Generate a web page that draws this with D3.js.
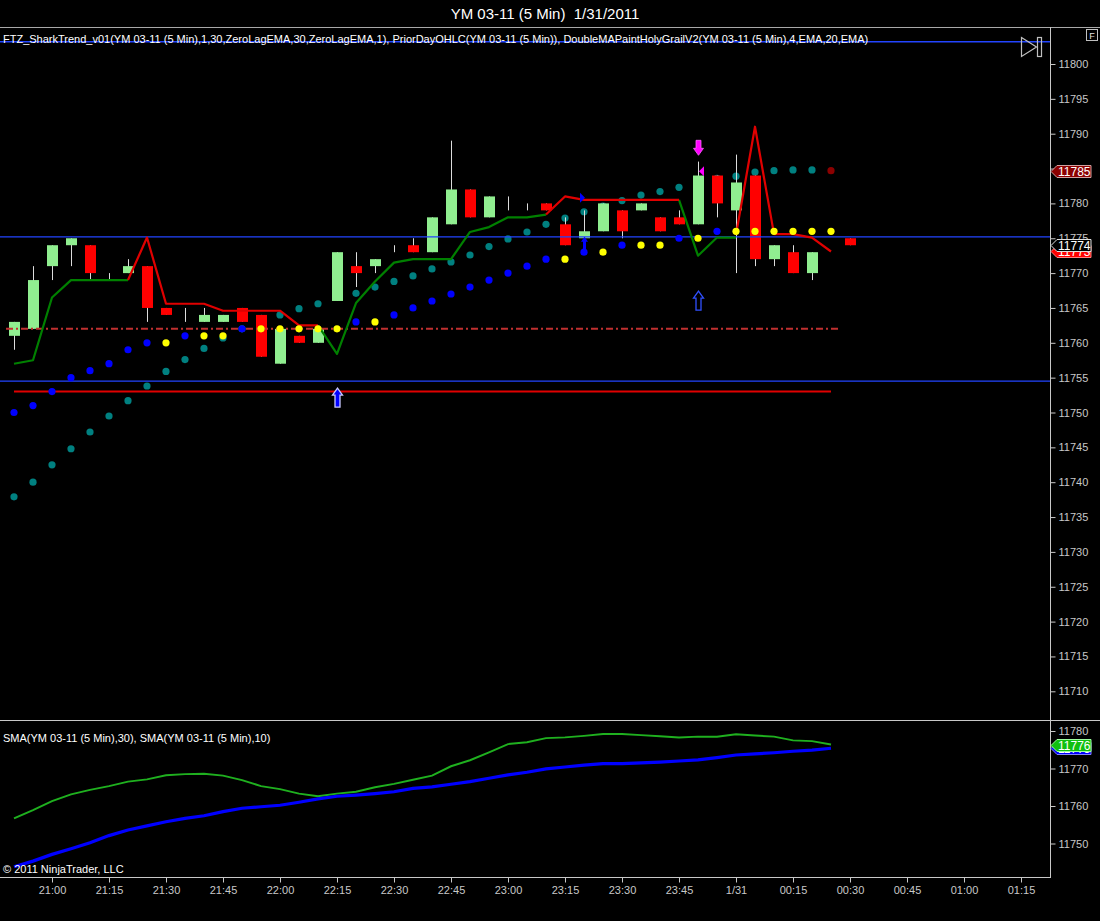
<!DOCTYPE html>
<html><head><meta charset="utf-8">
<script src="https://cdn.jsdelivr.net/npm/d3@7"></script>
<style>
html,body{margin:0;padding:0;background:#000;}
svg{display:block;font-family:"Liberation Sans",Arial,sans-serif;}
</style></head><body>
<svg id="c" width="1100" height="921"></svg>
<script>
// ---------------- DATA ----------------
const titleText = "YM 03-11 (5 Min)  1/31/2011";
const mainLabel = "FTZ_SharkTrend_v01(YM 03-11 (5 Min),1,30,ZeroLagEMA,30,ZeroLagEMA,1), PriorDayOHLC(YM 03-11 (5 Min)), DoubleMAPaintHolyGrailV2(YM 03-11 (5 Min),4,EMA,20,EMA)";
const lowerLabel = "SMA(YM 03-11 (5 Min),30), SMA(YM 03-11 (5 Min),10)";
const copyrightText = "\u00A9 2011 NinjaTrader, LLC";

const barTimes = ["20:50","20:55","21:00","21:05","21:10","21:15","21:20","21:25","21:30","21:35",
  "21:40","21:45","21:50","21:55","22:00","22:05","22:10","22:15","22:20","22:25",
  "22:30","22:35","22:40","22:45","22:50","22:55","23:00","23:05","23:10","23:15",
  "23:20","23:25","23:30","23:35","23:40","23:45","23:50","23:55","00:00","00:05",
  "00:10","00:15","00:20","00:25","00:30"];
const openV  = [11761,11762,11771,11774,11774,11769,11770,11771,11765,11764,11763,11763,11765,11764,11757,11761,11760,11766,11771,11771,
  11773,11774,11773,11777,11782,11778,11780,11780,11780,11777,11775,11776,11779,11779,11778,11778,11777,11784,11779,11784,
  11772,11773,11770,11773,11775];
const highV  = [11763,11771,11774,11775,11774,11770,11772,11771,11765,11765,11765,11764,11765,11764,11762,11761,11762,11773,11773,11772,
  11774,11775,11778,11789,11782,11781,11781,11780,11780,11778,11779,11780,11779,11780,11778,11779,11786,11784,11787,11784,
  11774,11774,11773,11773,11775];
const lowV   = [11759,11762,11769,11771,11769,11769,11770,11763,11764,11763,11763,11763,11763,11758,11757,11760,11760,11766,11768,11770,
  11773,11773,11773,11777,11778,11778,11779,11779,11779,11774,11775,11776,11775,11779,11776,11777,11777,11778,11770,11771,
  11771,11770,11769,11773,11774];
const closeV = [11763,11769,11774,11775,11770,11769,11771,11765,11764,11764,11764,11764,11763,11758,11762,11760,11762,11773,11770,11772,
  11773,11773,11778,11782,11778,11781,11780,11780,11779,11774,11776,11780,11776,11780,11776,11777,11784,11780,11783,11772,
  11774,11770,11773,11773,11774];

// trailing stop dots (blue = stop raised, yellow = unchanged)
const stopV = [11750,11751,11753,11755,11756,11757,11759,11760,11760,11761,11761,11761,11762,11762,11762,11762,11762,11762,11763,11763,
  11764,11765,11766,11767,11768,11769,11770,11771,11772,11772,11773,11773,11774,11774,11774,11775,11775,11776,11776,11776,
  11776,11776,11776,11776,null];
const stopRaised = [1,1,1,1,1,1,1,1,0,1,0,0,1,0,0,0,0,0,1,0,
  1,1,1,1,1,1,1,1,1,0,1,0,1,0,0,1,0,1,0,0,
  0,0,0,0,0];
// zero-lag EMA dots (teal; last one dark red)
const zlemaV = [11737.9,11740.0,11742.5,11744.8,11747.2,11749.5,11751.7,11753.8,11755.9,11757.6,
  11759.2,11760.7,11762.0,11763.0,11764.0,11764.9,11765.6,11766.8,11767.1,11768.0,
  11768.8,11769.6,11770.6,11771.6,11772.6,11773.8,11774.9,11775.9,11777.0,11777.9,
  11778.8,11779.6,11780.4,11781.2,11781.7,11782.3,11783.2,11783.6,11783.9,11784.5,
  11784.7,11784.8,11784.8,11784.7,null];
// shark trend: up (green) and down (red)
const trendUpV = [11757.0,11757.5,11766.5,11769.0,11769.0,11769.0,11769.0,null,null,null,
  null,null,null,null,null,null,11762.5,11758.4,11765.7,11768.8,
  11771.5,11772.0,11772.0,11772.0,11775.9,11776.6,11778.0,11778.0,11778.4,null,
  null,null,null,null,null,11780.5,11772.5,11775.1,11775.1,null,
  null,null,null,null,null];
const trendDownV = [null,null,null,null,null,null,11769.0,11775.1,11765.6,11765.6,
  11765.6,11764.6,11764.6,11764.6,11764.6,11762.5,11762.5,null,null,null,
  null,null,null,null,null,null,null,null,11778.4,11781.0,
  11780.5,11780.5,11780.5,11780.5,11780.5,11780.5,null,null,11775.5,11791.0,
  11775.6,11775.6,11775.1,11773.1,null];
// lower panel SMAs
const sma10V = [11756.7,11758.9,11761.3,11763.1,11764.3,11765.3,11766.5,11767.1,11768.2,11768.5,
  11768.6,11768.1,11766.9,11765.3,11764.5,11763.3,11762.6,11763.3,11763.8,11765.0,
  11765.9,11767.0,11768.1,11770.6,11772.2,11774.3,11776.5,11777.0,11778.1,11778.3,
  11778.7,11779.2,11779.2,11778.9,11778.6,11778.3,11778.5,11778.5,11779.1,11778.8,
  11778.5,11777.5,11777.3,11776.4,null];
const sma30V = [11743.8,11745.3,11747.1,11748.6,11750.2,11752.1,11753.6,11754.7,11755.8,11756.7,
  11757.4,11758.5,11759.4,11759.8,11760.2,11761.0,11761.9,11762.6,11762.9,11763.3,
  11763.8,11764.7,11765.1,11765.8,11766.5,11767.4,11768.3,11769.0,11769.9,11770.4,
  11770.9,11771.3,11771.3,11771.5,11771.7,11772.0,11772.3,11772.9,11773.6,11773.9,
  11774.2,11774.6,11774.9,11775.4,null];

// horizontal levels
const blueLevels = [11803.2, 11775.2, 11754.5];
const priorDayClose = 11762;
const priorDayLow = 11753;

// signals
const upArrowTimes = ["22:15","23:50"], upArrowTips = [11753.5, 11767.4], upArrowHollow = [0,1];
const smallUpArrowTimes = ["23:20"], smallUpArrowTips = [11775.2];
const downArrowTimes = ["23:50"], downArrowTips = [11786.9];
const leftTriTimes = ["23:50"], leftTriValues = [11784.6];
const rightTriTimes = ["23:20"], rightTriValues = [11780.8];

const yTicks = [11710,11715,11720,11725,11730,11735,11740,11745,11750,11755,11760,11765,11770,11775,11780,11785,11790,11795,11800];
const y2Ticks = [11750,11760,11770,11780];
const xTickTimes  = ["21:00","21:15","21:30","21:45","22:00","22:15","22:30","22:45","23:00","23:15","23:30","23:45","00:00","00:15","00:30","00:45","01:00","01:15"];
const xTickLabels = ["21:00","21:15","21:30","21:45","22:00","22:15","22:30","22:45","23:00","23:15","23:30","23:45","1/31","00:15","00:30","00:45","01:00","01:15"];

// ---------------- DRAW ----------------
const parseT = s => { const [h,m] = s.split(":").map(Number); return new Date(2011, 0, h >= 12 ? 30 : 31, h, m); };
const bars = barTimes.map((t,i) => ({t: parseT(t), o: openV[i], h: highV[i], l: lowV[i], c: closeV[i], i}));

const svg = d3.select("#c");
const AX = 1050;
const MAIN_TOP = 28, MAIN_BOT = 720, LOW_BOT = 877;
const x = d3.scaleTime().domain([parseT("20:50"), parseT("01:15")]).range([14, 1021]);
const y = d3.scaleLinear().domain([11710, 11800]).range([691.3, 64]);
const y2 = d3.scaleLinear().domain([11750, 11780]).range([843.5, 731]);
const xs = i => x(bars[i].t);

svg.append("rect").attr("width",1100).attr("height",921).attr("fill","#000");
const defs = svg.append("defs");
defs.append("clipPath").attr("id","clipMain").append("rect").attr("x",0).attr("y",MAIN_TOP).attr("width",AX).attr("height",MAIN_BOT-MAIN_TOP);
defs.append("clipPath").attr("id","clipLow").append("rect").attr("x",0).attr("y",MAIN_BOT+1).attr("width",AX).attr("height",LOW_BOT-MAIN_BOT-1);

const gm = svg.append("g").attr("clip-path","url(#clipMain)");

// teal ZLEMA dots (behind candles)
gm.append("g").selectAll("circle").data(zlemaV.map((v,i)=>({v,i})).filter(d=>d.v!=null)).join("circle")
  .attr("cx", d=>xs(d.i)).attr("cy", d=>y(d.v)).attr("r",3.6)
  .attr("fill", d => d.i === 43 ? "#8b0000" : "#008080");

// wicks
gm.append("g").selectAll("line").data(bars.filter(b=>b.h>b.l)).join("line")
  .attr("x1", b=>Math.round(x(b.t))+0.5).attr("x2", b=>Math.round(x(b.t))+0.5)
  .attr("y1", b=>y(b.h)).attr("y2", b=>y(b.l))
  .attr("stroke","#dcdcdc").attr("stroke-width",1);
// bodies
gm.append("g").selectAll("rect").data(bars.filter(b=>b.o!==b.c)).join("rect")
  .attr("x", b=>Math.round(x(b.t))-5).attr("width",11)
  .attr("y", b=>y(Math.max(b.o,b.c))).attr("height", b=>Math.abs(y(b.o)-y(b.c)))
  .attr("fill", b=> b.c>b.o ? "#90ee90" : "#ff0000");

// horizontal blue levels
gm.append("g").selectAll("line").data(blueLevels).join("line")
  .attr("x1",0).attr("x2",AX).attr("y1",d=>y(d)).attr("y2",d=>y(d))
  .attr("stroke","#2244ff").attr("stroke-width",1.4);

// prior day close (dash-dot) and prior day low
gm.append("line").attr("x1", xs(0)-8).attr("x2", xs(43)+9)
  .attr("y1", y(priorDayClose)).attr("y2", y(priorDayClose))
  .attr("stroke","#c03030").attr("stroke-width",2).attr("stroke-dasharray","7,3,2,3");
gm.append("line").attr("x1", xs(0)).attr("x2", xs(43))
  .attr("y1", y(priorDayLow)).attr("y2", y(priorDayLow))
  .attr("stroke","#e00000").attr("stroke-width",2);

// shark trend lines
const lineGen = d3.line().defined(d=>d.v!=null).x(d=>xs(d.i)).y(d=>y(d.v));
gm.append("path").datum(trendUpV.map((v,i)=>({v,i}))).attr("d",lineGen)
  .attr("fill","none").attr("stroke","#008000").attr("stroke-width",2.2).attr("stroke-linejoin","round");
gm.append("path").datum(trendDownV.map((v,i)=>({v,i}))).attr("d",lineGen)
  .attr("fill","none").attr("stroke","#e00000").attr("stroke-width",2.2).attr("stroke-linejoin","round");

// stop dots
gm.append("g").selectAll("circle").data(stopV.map((v,i)=>({v,i,r:stopRaised[i]})).filter(d=>d.v!=null)).join("circle")
  .attr("cx", d=>xs(d.i)).attr("cy", d=>y(d.v)).attr("r",3.6)
  .attr("fill", d=> d.r ? "#0000ff" : "#ffff00");

// arrows
function upArrow(cx, ty, h, w, s, hh){
  return `M${cx},${ty} L${cx+w/2},${ty+hh} L${cx+s/2},${ty+hh} L${cx+s/2},${ty+h} L${cx-s/2},${ty+h} L${cx-s/2},${ty+hh} L${cx-w/2},${ty+hh} Z`;
}
function downArrow(cx, by, h, w, s, hh){
  return `M${cx},${by} L${cx+w/2},${by-hh} L${cx+s/2},${by-hh} L${cx+s/2},${by-h} L${cx-s/2},${by-h} L${cx-s/2},${by-hh} L${cx-w/2},${by-hh} Z`;
}
const tx = t => x(parseT(t));
upArrowTimes.forEach((t,k)=>{
  const cx = Math.round(tx(t))+0.5;
  gm.append("path").attr("d", upArrow(cx, y(upArrowTips[k]), 19, 10, 5, 7))
    .attr("fill", upArrowHollow[k] ? "#000" : "#0000ff")
    .attr("stroke", upArrowHollow[k] ? "#3050ff" : "#c8c8ff").attr("stroke-width",1.3);
});
smallUpArrowTimes.forEach((t,k)=>{
  const cx = Math.round(tx(t))+0.5;
  gm.append("path").attr("d", upArrow(cx, y(smallUpArrowTips[k]), 13, 7, 3, 5)).attr("fill","#0000ff");
});
downArrowTimes.forEach((t,k)=>{
  const cx = Math.round(tx(t))+0.5;
  gm.append("path").attr("d", downArrow(cx, y(downArrowTips[k]), 15, 10, 5, 7))
    .attr("fill","#ff00ff").attr("stroke","#ff60ff").attr("stroke-width",0.8);
});
leftTriTimes.forEach((t,k)=>{
  const cx = tx(t)+1, cy = y(leftTriValues[k]);
  gm.append("path").attr("d",`M${cx},${cy} L${cx+5},${cy-5} L${cx+5},${cy+5} Z`).attr("fill","#ff00ff");
});
rightTriTimes.forEach((t,k)=>{
  const cx = tx(t)+1, cy = y(rightTriValues[k]);
  gm.append("path").attr("d",`M${cx},${cy} L${cx-5},${cy-5} L${cx-5},${cy+5} Z`).attr("fill","#0000ff");
});

// lower panel
const gl = svg.append("g").attr("clip-path","url(#clipLow)");
const line2 = d3.line().defined(d=>d.v!=null).x(d=>xs(d.i)).y(d=>y2(d.v));
gl.append("path").datum(sma10V.map((v,i)=>({v,i}))).attr("d",line2)
  .attr("fill","none").attr("stroke","#1fb01f").attr("stroke-width",2);
gl.append("path").datum(sma30V.map((v,i)=>({v,i}))).attr("d",line2)
  .attr("fill","none").attr("stroke","#0000ff").attr("stroke-width",3.2);

// frame lines
const gray = "#c8c8c8";
svg.append("line").attr("x1",0).attr("x2",1100).attr("y1",27.5).attr("y2",27.5).attr("stroke","#a8a8a8");
svg.append("line").attr("x1",0).attr("x2",1100).attr("y1",MAIN_BOT+0.5).attr("y2",MAIN_BOT+0.5).attr("stroke",gray);
svg.append("line").attr("x1",AX+0.5).attr("x2",AX+0.5).attr("y1",27).attr("y2",LOW_BOT).attr("stroke",gray);
svg.append("line").attr("x1",0).attr("x2",AX+1).attr("y1",LOW_BOT+0.5).attr("y2",LOW_BOT+0.5).attr("stroke",gray);

// price-tag values (last values of the plotted series)
const tagZlema = Math.round(zlemaV[43]);
const tagTrend = Math.round(trendDownV[43]);
const tagClose = closeV[44];

// y axis main (tick label hidden where a price tag covers it, as in the original)
const yAxis = d3.axisRight(y).tickValues(yTicks).tickSize(5).tickPadding(3).tickFormat(d3.format("d"));
const gya = svg.append("g").attr("transform",`translate(${AX+0.5},0)`).call(yAxis);
gya.selectAll(".tick").filter(d => d === tagZlema).select("text").remove();
const y2Axis = d3.axisRight(y2).tickValues(y2Ticks).tickSize(5).tickPadding(3).tickFormat(d3.format("d"));
const gyb = svg.append("g").attr("transform",`translate(${AX+0.5},0)`).call(y2Axis);
// x axis
const xAxis = d3.axisBottom(x).tickValues(xTickTimes.map(parseT)).tickSize(5).tickPadding(4)
  .tickFormat((d,i)=>xTickLabels[i]);
const gxa = svg.append("g").attr("transform",`translate(0,${LOW_BOT+0.5})`).call(xAxis);
[gya,gyb,gxa].forEach(g=>{
  g.select(".domain").remove();
  g.selectAll(".tick line").attr("stroke",gray);
  g.selectAll(".tick text").attr("fill",gray).attr("font-size",11).attr("font-family","Liberation Sans, Arial, sans-serif");
});

// price tags on axis
function priceTag(val, yy, fill, stroke, textFill){
  const h = 12, x0 = AX+1, x1 = AX+7, x2 = 1091;
  const yc = Math.round(yy)+0.5;
  svg.append("path").attr("d",`M${x0},${yc} L${x1},${yc-h/2} L${x2},${yc-h/2} L${x2},${yc+h/2} L${x1},${yc+h/2} Z`)
    .attr("fill",fill).attr("stroke",stroke).attr("stroke-width",1);
  svg.append("text").attr("x",x1+1).attr("y",yc+4.5).attr("fill",textFill).attr("font-size",12).text(d3.format("d")(val));
}
priceTag(tagZlema, y(zlemaV[43]), "#8b0000", "#d0a0a0", "#ffffff");
priceTag(tagTrend, y(trendDownV[43]), "#ff0000", "#ff8080", "#ffffff");
priceTag(tagClose, y(closeV[44]), "#000000", "#e0e0e0", "#ffffff");
priceTag(Math.round(sma30V[43]), y2(sma30V[43]), "#0000ff", "#8080ff", "#ffffff");
priceTag(Math.round(sma10V[43]), y2(sma10V[43]), "#10c010", "#a0ffa0", "#ffffff");

// icons top right
svg.append("path").attr("d","M1021.5,37.5 L1036.5,47 L1021.5,56.5 Z").attr("fill","none").attr("stroke","#c0c0c0").attr("stroke-width",1.2);
svg.append("rect").attr("x",1037.5).attr("y",37.5).attr("width",4).attr("height",19).attr("fill","none").attr("stroke","#c0c0c0").attr("stroke-width",1.2);
svg.append("rect").attr("x",1086.5).attr("y",29.5).attr("width",11).attr("height",11).attr("fill","#000").attr("stroke","#c0c0c0");
svg.append("text").attr("x",1092).attr("y",38.5).attr("text-anchor","middle").attr("fill","#e0e0e0").attr("font-size",9).text("F");

// texts
svg.append("text").attr("x",545).attr("y",19).attr("text-anchor","middle").attr("fill","#ffffff").attr("font-size",15)
  .attr("xml:space","preserve").style("white-space","pre").text(titleText);
svg.append("text").attr("x",3).attr("y",43).attr("fill","#ffffff").attr("font-size",11).text(mainLabel);
svg.append("text").attr("x",3).attr("y",742).attr("fill","#ffffff").attr("font-size",11).text(lowerLabel);
svg.append("text").attr("x",3).attr("y",873).attr("fill","#ffffff").attr("font-size",11).text(copyrightText);
</script>
</body></html>
